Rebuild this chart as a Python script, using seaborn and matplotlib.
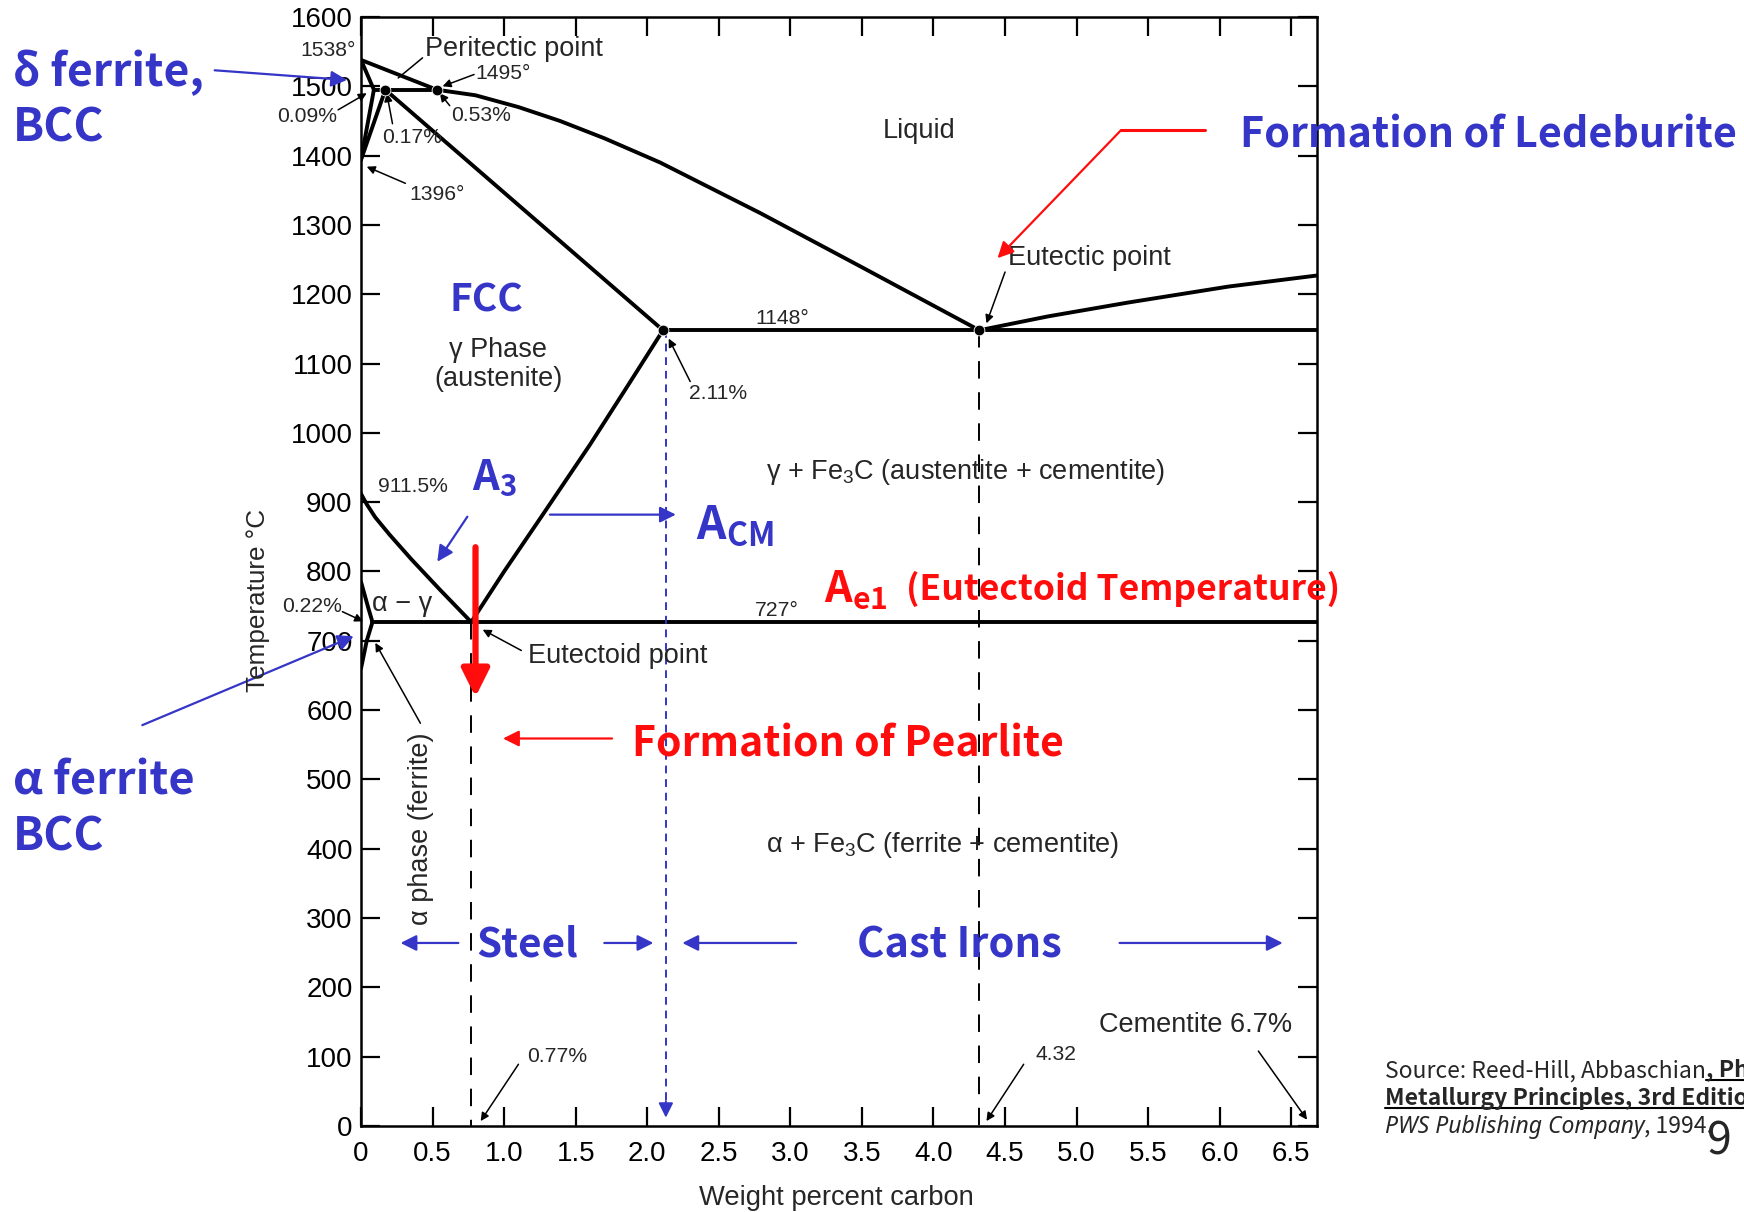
import numpy as np
import matplotlib
matplotlib.use('Agg')
import matplotlib.pyplot as plt
import seaborn as sns
from matplotlib.lines import Line2D

# phase boundaries, wt% C vs temperature (C)
liquidus_c = [0.0, 0.53, 0.8, 1.1, 1.39, 1.7, 2.09, 2.79, 3.49, 4.32]
liquidus_t = [1538, 1495, 1487, 1470, 1450, 1425, 1390, 1317, 1240, 1148]
solidus_c = [0.17, 2.11]
solidus_t = [1495, 1148]
delta_sol_c = [0.0, 0.09]
delta_sol_t = [1538, 1495]
delta_gam_c = [0.09, 0.0]
delta_gam_t = [1495, 1394]
gam_delta_c = [0.17, 0.0]
gam_delta_t = [1495, 1394]
peritectic_c = [0.09, 0.53]
peritectic_t = [1495, 1495]
a3_c = [0.0, 0.04, 0.1, 0.2, 0.35, 0.55, 0.77]
a3_t = [912, 897, 878, 853, 818, 774, 727]
acm_c = [0.77, 1.0, 1.27, 1.6, 1.87, 2.11]
acm_t = [727, 800, 882, 983, 1070, 1148]
alpha_c = [0.0, 0.05, 0.08, 0.04, 0.0]
alpha_t = [785, 748, 727, 700, 660]
eutectoid_c = [0.08, 6.68]
eutectoid_t = [727, 727]
eutectic_c = [2.11, 6.68]
eutectic_t = [1148, 1148]
cem_liq_c = [4.32, 4.8, 5.36, 6.06, 6.68]
cem_liq_t = [1148, 1168, 1188, 1211, 1227]
points_c = [0.17, 0.53, 2.11, 4.32]
points_t = [1495, 1495, 1148, 1148]

x_ticks = [0, 0.5, 1.0, 1.5, 2.0, 2.5, 3.0, 3.5, 4.0, 4.5, 5.0, 5.5, 6.0, 6.5]
x_labels = ['0', '0.5', '1.0', '1.5', '2.0', '2.5', '3.0', '3.5', '4.0', '4.5',
            '5.0', '5.5', '6.0', '6.5']
y_ticks = list(range(0, 1601, 100))

BLUE = '#3535c8'
RED = '#ff0d0d'
KR = ['Noto Sans CJK KR', 'DejaVu Sans']
HEL = ['Liberation Sans', 'DejaVu Sans']

sns.set_style('ticks')
plt.rcParams['font.family'] = HEL
plt.rcParams['mathtext.fontset'] = 'custom'
plt.rcParams['mathtext.rm'] = 'Liberation Sans'
plt.rcParams['mathtext.bf'] = 'Noto Sans CJK KR:bold'

fig = plt.figure(figsize=(17.44, 12.12), dpi=100)
ax = fig.add_axes([0.207, 0.071, 0.5482, 0.915])


def boundary(xs, ys, **kw):
    opts = dict(color='black', lw=2.8)
    opts.update(kw)
    sns.lineplot(x=xs, y=ys, ax=ax, sort=False, estimator=None, **opts)


for xs, ys in [(liquidus_c, liquidus_t), (solidus_c, solidus_t),
               (delta_sol_c, delta_sol_t), (delta_gam_c, delta_gam_t),
               (gam_delta_c, gam_delta_t), (peritectic_c, peritectic_t),
               (a3_c, a3_t), (acm_c, acm_t), (alpha_c, alpha_t),
               (eutectoid_c, eutectoid_t), (eutectic_c, eutectic_t),
               (cem_liq_c, cem_liq_t)]:
    boundary(xs, ys)

boundary([0.77, 0.77], [727, 0], lw=1.4, dashes=(9, 7))
boundary([4.32, 4.32], [1148, 0], lw=1.4, dashes=(9, 7))
boundary([2.13, 2.13], [1148, 20], lw=1.4, color=BLUE, dashes=(4, 3))
ax.annotate('', xy=(2.13, 8), xytext=(2.13, 40),
            arrowprops=dict(arrowstyle='-|>', color=BLUE, lw=1.4, mutation_scale=22))
sns.scatterplot(x=points_c, y=points_t, ax=ax, color='black', s=60, zorder=5)

ax.set_xlim(0, 6.68)
ax.set_ylim(0, 1600)
ax.set_xticks(x_ticks)
ax.set_xticklabels(x_labels)
ax.set_yticks(y_ticks)
ax.tick_params(direction='in', length=14, width=1.6, top=True, right=True,
               labelsize=20, colors='black')
ax.tick_params(axis='x', pad=11)
ax.tick_params(axis='y', pad=6)
for s in ax.spines.values():
    s.set_linewidth(1.8)
    s.set_color('black')

SMALL = 15.2
MID = 19.5


def note(text, x, y, size=SMALL, **kw):
    ax.text(x, y, text, fontsize=size, va='center', **kw)


def arrow(x0, y0, x1, y1, color='black', lw=1.1, ms=12, style='-|>'):
    ax.annotate('', xy=(x1, y1), xytext=(x0, y0), annotation_clip=False,
                arrowprops=dict(arrowstyle=style, color=color, lw=lw,
                                mutation_scale=ms, shrinkA=0, shrinkB=0))


# black labels of the original diagram
note('1538°', -0.04, 1551, ha='right')
note('Peritectic point', 0.45, 1554, size=MID)
arrow(0.43, 1541, 0.26, 1512, style='-')
note('1495°', 0.80, 1519)
arrow(0.79, 1517, 0.57, 1500)
note('0.53%', 0.63, 1458)
arrow(0.62, 1472, 0.55, 1490)
note('0.17%', 0.145, 1426)
arrow(0.22, 1446, 0.18, 1490)
note('0.09%', -0.17, 1456, ha='right')
arrow(-0.16, 1466, 0.04, 1490)
note('1396°', 0.34, 1344)
arrow(0.31, 1360, 0.04, 1384)
note('Liquid', 3.90, 1435, size=MID, ha='center')
note('Eutectic point', 4.52, 1252, size=MID)
arrow(4.50, 1232, 4.37, 1158)
note('1148°', 2.945, 1165, ha='center')
note('2.11%', 2.29, 1057)
arrow(2.30, 1074, 2.15, 1136)
note('γ Phase', 0.96, 1119, size=MID, ha='center')
note('(austenite)', 0.96, 1078, size=MID, ha='center')
note('911.5%', 0.12, 922)
note(r'γ + Fe$_3$C (austentite + cementite)', 2.83, 944, size=MID)
note('727°', 2.906, 744, ha='center')
note('α − γ', 0.08, 753, size=MID)
note('0.22%', -0.13, 750, ha='right')
arrow(-0.13, 742, 0.015, 728)
note('Eutectoid point', 1.17, 678, size=MID)
arrow(1.12, 686, 0.85, 716)
note('α phase (ferrite)', 0.416, 429, size=MID, rotation=90, ha='center')
arrow(0.415, 581, 0.10, 697)
note(r'α + Fe$_3$C (ferrite + cementite)', 2.83, 405, size=MID)
note('Cementite 6.7%', 5.155, 145, size=MID)
arrow(6.27, 108, 6.61, 9)
note('4.32', 4.71, 103)
arrow(4.63, 89, 4.37, 7)
note('0.77%', 1.163, 100)
arrow(1.10, 89, 0.836, 7)


# overlaid lecture annotations
def big(text, x, y, color, size=30, **kw):
    ax.text(x, y, text, fontsize=size, color=color, family=KR,
            fontweight='bold', va='center', **kw)


big('FCC', 0.876, 1191, BLUE, size=28, ha='center')
big(r'$\mathbf{A_3}$', 0.774, 935, BLUE, size=30)
arrow(0.743, 879, 0.533, 814, color=BLUE, lw=1.6, ms=24)
arrow(1.32, 882, 2.20, 882, color=BLUE, lw=1.6, ms=24)
big(r'$\mathbf{A_{CM}}$', 2.34, 867, BLUE, size=33)
big(r'$\mathbf{A_{e1}}$', 3.233, 774, RED, size=31)
big('(Eutectoid Temperature)', 3.81, 775, RED, size=25.5)
arrow(0.80, 835, 0.80, 619, color=RED, lw=4.5, ms=42)
big('Formation of Pearlite', 1.895, 551, RED, size=29.5)
arrow(1.754, 559, 0.992, 559, color=RED, lw=1.6, ms=24)
big('Steel', 0.805, 261, BLUE, size=29)
arrow(0.68, 264, 0.276, 264, color=BLUE, lw=1.6, ms=24)
arrow(1.70, 264, 2.043, 264, color=BLUE, lw=1.6, ms=24)
big('Cast Irons', 3.467, 261, BLUE, size=30)
arrow(3.04, 264, 2.245, 264, color=BLUE, lw=1.6, ms=24)
arrow(5.30, 264, 6.44, 264, color=BLUE, lw=1.6, ms=24)

# outside the axes
fig.text(0.148, 0.5045, 'Temperature °C', rotation=90, fontsize=18.8,
         ha='center', va='center')
fig.text(0.4796, 0.0117, 'Weight percent carbon', fontsize=19.7,
         ha='center', va='center')

for txt, y, size in [('δ ferrite,', 0.940, 32), ('BCC', 0.894, 33),
                     ('α ferrite', 0.355, 32.5), ('BCC', 0.309, 33)]:
    fig.text(0.0076, y, txt, fontsize=size, color=BLUE, family=KR,
             fontweight='bold', va='center')
fig.text(0.711, 0.888, 'Formation of Ledeburite', fontsize=29.7, color=BLUE,
         family=KR, fontweight='bold', va='center')

ax.annotate('', xy=(0.199, 0.934), xytext=(0.1231, 0.942), xycoords='figure fraction',
            arrowprops=dict(arrowstyle='-|>', color=BLUE, lw=1.6, mutation_scale=24,
                            shrinkA=0, shrinkB=0))
ax.annotate('', xy=(0.2028, 0.475), xytext=(0.0816, 0.4017), xycoords='figure fraction',
            arrowprops=dict(arrowstyle='-|>', color=BLUE, lw=1.6, mutation_scale=24,
                            shrinkA=0, shrinkB=0))
fig.add_artist(Line2D([0.6907, 0.6428], [0.8926, 0.8926], color=RED, lw=2.2,
                      transform=fig.transFigure))
ax.annotate('', xy=(0.572, 0.787), xytext=(0.6428, 0.8926), xycoords='figure fraction',
            arrowprops=dict(arrowstyle='-|>', color=RED, lw=1.6, mutation_scale=24,
                            shrinkA=0, shrinkB=0))

# source credit with underlined title
fig.canvas.draw()
rend = fig.canvas.get_renderer()
W, H = fig.bbox.width, fig.bbox.height
ITAL = ['Noto Sans', 'Open Sans', 'DejaVu Sans']
src_lines = [
    (0.111, [('Source: Reed-Hill, Abbaschian', 'normal', 'normal', False, KR),
             (', Physical', 'bold', 'normal', True, KR)]),
    (0.0885, [('Metallurgy Principles, 3rd Edition,', 'bold', 'normal', True, KR)]),
    (0.0655, [('PWS Publishing Company', 'normal', 'italic', False, ITAL),
              (', 1994.', 'normal', 'normal', False, KR)]),
]
for y, parts in src_lines:
    x = 0.794
    for s, wt, st, ul, fam in parts:
        t = fig.text(x, y, s, fontsize=16.5, family=fam, fontweight=wt,
                     fontstyle=st, va='baseline')
        bb = t.get_window_extent(rend)
        if ul:
            fig.add_artist(Line2D([bb.x0 / W, bb.x1 / W], [y - 3 / H, y - 3 / H],
                                  color='black', lw=1.5, transform=fig.transFigure))
        x = bb.x1 / W
fig.text(0.986, 0.058, '9', fontsize=32, family=KR, va='center', ha='center')

fig.savefig('out.png', dpi=100)
